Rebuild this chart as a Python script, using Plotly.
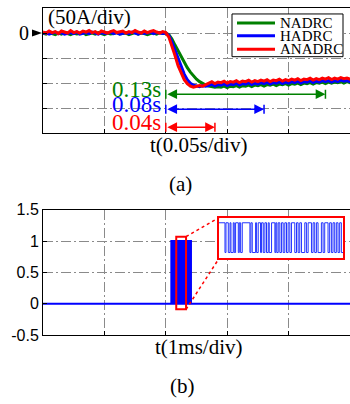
import numpy as np
import plotly.graph_objects as go

# ---------------- data: panel (a) current response (A), sampled every 2.5 ms ----------------
dt_a = 0.0025
red_vals = [2, 0, 4, 1, 3, -1, 4, 2, 0, 5, 1, 3, 0, 4, 2, 5, 1, 3, -1, 4, 2, 0, 3, 5, 1, 2, 4, 0, 3, 1, 5, 2, 0, 4, 1, 3, 5, 2, 0, 3, 1,
            -8, -25, -45, -65, -80, -93, -101, -106, -108, -107, -105, -106, -103,
            -100, -97, -101, -98, -99, -96, -100, -97, -98, -95, -99, -96, -97, -94, -98, -95, -97, -94, -96, -93,
            -97, -94, -95, -92, -96, -93, -95, -92, -94, -91, -95, -92, -93, -90, -94, -91, -93, -90, -92, -89,
            -93, -90, -92, -89, -91, -90, -92, -90, -91]
blue_vals = [-1, 1, -2, 0, 2, -1, 1, -2, 0, 1, -1, 2, -2, 0, 1, -1, 2, 0, -2, 1, -1, 0, 2, -1, 1, -2, 0, 1, -1, 2, 0, -2, 1, -1, 0, 2, -1, 1, 0, -1, 0,
             -5, -18, -35, -52, -68, -82, -93, -100, -104, -106, -107, -105, -106,
             -105, -102, -106, -103, -104, -101, -105, -102, -103, -100, -104, -101, -102, -99, -103, -100, -102, -99,
             -101, -98, -102, -99, -100, -97, -101, -98, -100, -97, -99, -96, -100, -97, -98, -95, -99, -96, -98, -95,
             -97, -95, -98, -95, -97, -94, -96, -95, -97, -95, -96]
green_vals = [0, -2, 1, -1, -3, 0, -2, 1, -1, -3, 0, -2, -1, 1, -3, -1, 0, -2, 1, -1, -3, 0, -2, -1, 1, -2, -1, 0, -3, -1, 1, -2, 0, -1, -3, -1, 0, -2, 1, -1, 0,
              -3, -12, -24, -36, -48, -59, -69, -78, -86, -92, -97, -101, -104, -106, -107, -108, -107, -108,
              -106, -109, -106, -107, -105, -108, -105, -106, -104, -107, -104, -105, -103, -106, -103, -104, -102,
              -105, -102, -103, -101, -104, -101, -102, -100, -103, -100, -101, -99, -102, -99, -100, -98, -101, -98,
              -100, -98, -99, -97, -100, -97, -99, -98, -99]
series_names = ["NADRC", "HADRC", "ANADRC"]
series_colors = ["#008000", "#0000ff", "#ff0000"]
series_vals = [green_vals, blue_vals, red_vals]

step_time = 0.1                     # s, start of the transient
settle_times = [0.13, 0.08, 0.04]   # s, green / blue / red
settle_levels = [-122, -152, -188]  # A, vertical position of each arrow
settle_labels = ["0.13s", "0.08s", "0.04s"]

# ---------------- data: panel (b) switching signal (ms) ----------------
pwm_start = 2.09
pwm_edges = [2.093, 2.096, 2.1, 2.104, 2.107, 2.111, 2.115, 2.118, 2.122, 2.126, 2.13, 2.133, 2.137, 2.141,
             2.145, 2.148, 2.152, 2.156, 2.159, 2.163, 2.166, 2.169,
             2.1777, 2.179, 2.182, 2.1842, 2.1854, 2.1884, 2.1897, 2.1914, 2.1949, 2.1962, 2.1979, 2.2,
             2.2099, 2.2112, 2.2129, 2.2172, 2.2185, 2.2206, 2.2236, 2.2249, 2.2271, 2.2292, 2.2313, 2.2335,
             2.2348, 2.2378, 2.2421, 2.2433, 2.2446, 2.2464, 2.2485, 2.2506, 2.2528, 2.2549, 2.2571, 2.2592,
             2.2614, 2.2635, 2.2678, 2.27, 2.2721, 2.2742, 2.2764, 2.2807, 2.2828, 2.285, 2.2893, 2.2914,
             2.2935, 2.2957, 2.2978, 2.3021, 2.3043, 2.3064, 2.3107, 2.3128, 2.315, 2.3171, 2.3193, 2.3214,
             2.3236, 2.3257, 2.3279,
             2.332, 2.336, 2.34, 2.345, 2.349, 2.354, 2.358, 2.363, 2.368, 2.372, 2.377, 2.381, 2.386, 2.391,
             2.395, 2.4, 2.404]
pwm_end = 2.41
t_end_b = 5.0
zoom_window = [2.17, 2.33]
zoom_levels = [-0.09, 1.07]

# ---------------- layout geometry (pixels of the 350x404 canvas) ----------------
W, H = 350, 404
ML, MR, MT, MB = 43, 0, 6, 69
PW, PH = W - ML - MR, H - MT - MB


def px(x):
    return (x - ML) / PW


def py(y):
    return (H - MB - y) / PH


serif = "Liberation Serif"
sans = "Liberation Sans"
grid_dash = "10px,3px,2px,3px"
grid_col = "#8a8a8a"

fig = go.Figure()

# panel (a) traces, drawn green, blue, red (red on top)
for name, col, vals in zip(series_names, series_colors, series_vals):
    t = np.arange(len(vals)) * dt_a
    fig.add_trace(go.Scatter(x=t, y=vals, mode="lines", name=name,
                             line=dict(color=col, width=3), xaxis="x", yaxis="y", showlegend=False))

# panel (b) signal
sig_t = [0.0, pwm_start]
sig_y = [0, 1]
state = 1
for e in pwm_edges:
    state = 1 - state
    sig_t.append(e)
    sig_y.append(state)
sig_t += [pwm_end, t_end_b]
sig_y += [0, 0]
fig.add_trace(go.Scatter(x=sig_t, y=sig_y, mode="lines", line=dict(color="#0000ff", width=2, shape="hv"),
                         xaxis="x2", yaxis="y2", showlegend=False))
fig.add_trace(go.Scatter(x=sig_t, y=sig_y, mode="lines", line=dict(color="#2233ff", width=1, shape="hv"),
                         xaxis="x3", yaxis="y3", showlegend=False))

axis_common = dict(showline=True, linecolor="black", linewidth=1, ticks="inside", ticklen=4,
                   tickcolor="black", zeroline=False, showgrid=True, gridcolor=grid_col,
                   griddash=grid_dash, gridwidth=1)

fig.update_layout(
    width=W, height=H, margin=dict(l=ML, r=MR, t=MT, b=MB),
    paper_bgcolor="white", plot_bgcolor="white",
    xaxis=dict(domain=[0, 1], range=[0, 0.25], tickvals=[0.05, 0.1, 0.15, 0.2], showticklabels=False,
               mirror=True, anchor="y", **axis_common),
    yaxis=dict(domain=[py(132), 1], range=[-200, 50], tickvals=[-150, -100, -50, 0], showticklabels=False,
               anchor="x", **axis_common),
    xaxis2=dict(domain=[0, 1], range=[0, 5], tickvals=[1, 2, 3, 4], showticklabels=False,
                mirror=True, anchor="y2", **axis_common),
    yaxis2=dict(domain=[0, py(209)], range=[-0.5, 1.5], tickvals=[-0.5, 0, 0.5, 1, 1.5],
                ticktext=["-0.5", "0", "0.5", "1", "1.5"], showticklabels=True,
                tickfont=dict(family=sans, size=16, color="black"), anchor="x2", **axis_common),
    xaxis3=dict(domain=[px(219), px(343)], range=zoom_window, showticklabels=False, showgrid=False,
                showline=True, mirror=True, linecolor="#ff0000", linewidth=2, ticks="", zeroline=False,
                anchor="y3"),
    yaxis3=dict(domain=[py(258), py(217)], range=[-0.2, 1.17], showticklabels=False, showgrid=False,
                showline=True, mirror=True, linecolor="#ff0000", linewidth=2, ticks="", zeroline=False,
                anchor="x3"),
)

ann = []
shapes = []

# "0" marker with arrow on panel (a)
ann.append(dict(text="0", x=px(31), xref="paper", xanchor="right", y=0, yref="y", yanchor="middle",
                showarrow=False, font=dict(family=serif, size=20, color="black")))
shapes.append(dict(type="path", xref="paper", yref="y",
                   path=f"M {px(32)},7 L {px(42)},0 L {px(32)},-7 Z",
                   fillcolor="black", line=dict(width=0)))
ann.append(dict(text="(50A/div)", x=px(46), xref="paper", xanchor="left", y=py(15), yref="paper",
                yanchor="middle", showarrow=False, font=dict(family=serif, size=21, color="black")))

# settling-time arrows
for col, dur, lev, lab in zip(series_colors, settle_times, settle_levels, settle_labels):
    x1 = step_time + dur
    ann.append(dict(text="", x=x1, y=lev, xref="x", yref="y", ax=step_time, ay=lev, axref="x", ayref="y",
                    showarrow=True, arrowhead=2, arrowside="end+start", arrowsize=1.3, arrowwidth=1.5,
                    arrowcolor=col, standoff=0, startstandoff=0))
    for xv in (step_time, x1):
        shapes.append(dict(type="line", xref="x", yref="y", x0=xv, x1=xv, y0=lev - 9, y1=lev + 9,
                           line=dict(color=col, width=1.5)))
    ann.append(dict(text=lab, x=step_time, xref="x", xanchor="right", xshift=-3, y=lev + 9, yref="y",
                    yanchor="middle", showarrow=False, font=dict(family=serif, size=23, color=col)))

# legend (drawn manually to match compact box)
shapes.append(dict(type="rect", xref="paper", yref="paper", x0=px(232), x1=px(343), y0=py(55), y1=py(12),
                   line=dict(color="black", width=1), fillcolor="white", layer="above"))
for name, col, yy in zip(series_names, series_colors, [21, 34, 47.5]):
    shapes.append(dict(type="line", xref="paper", yref="paper", x0=px(237), x1=px(275), y0=py(yy), y1=py(yy),
                       line=dict(color=col, width=3), layer="above"))
    ann.append(dict(text=name, x=px(278), xref="paper", xanchor="left", y=py(yy), yref="paper",
                    yanchor="middle", showarrow=False, font=dict(family=serif, size=15, color="black")))

# axis captions and panel labels
for txt, cx, cy in [("t(0.05s/div)", 198, 144), ("(a)", 180, 183), ("t(1ms/div)", 199, 347), ("(b)", 182, 386)]:
    ann.append(dict(text=txt, x=px(cx), y=py(cy), xref="paper", yref="paper", xanchor="center",
                    yanchor="middle", showarrow=False, font=dict(family=serif, size=21, color="black")))

# zoom rectangle and connectors on panel (b)
shapes.append(dict(type="rect", xref="x2", yref="y2", x0=zoom_window[0], x1=zoom_window[1],
                   y0=zoom_levels[0], y1=zoom_levels[1], line=dict(color="#ff0000", width=2)))


def x2p(v):
    return (v - 0) / 5.0


def y2p(v):
    return (v + 0.5) / 2.0 * py(209)


shapes.append(dict(type="line", xref="paper", yref="paper", x0=x2p(zoom_window[1]), y0=y2p(zoom_levels[1]),
                   x1=px(219), y1=py(217), line=dict(color="#ff0000", width=1.5, dash="dot")))
shapes.append(dict(type="line", xref="paper", yref="paper", x0=x2p(zoom_window[1]), y0=y2p(zoom_levels[0]),
                   x1=px(219), y1=py(258), line=dict(color="#ff0000", width=1.5, dash="dot")))

fig.update_layout(annotations=ann, shapes=shapes)
fig.write_html("out.html", config={"displayModeBar": False},
               post_script="document.body.style.margin='0px';")
